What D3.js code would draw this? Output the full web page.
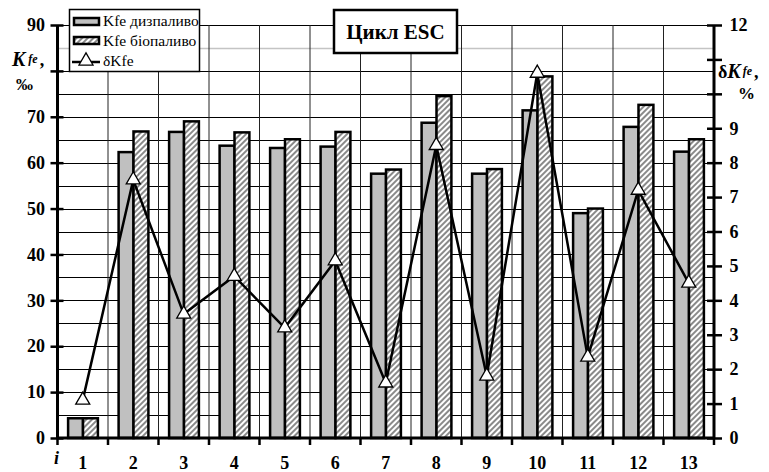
<!DOCTYPE html>
<html>
<head>
<meta charset="utf-8">
<script src="https://cdn.jsdelivr.net/npm/d3@7"></script>
<style>
  body { margin: 0; background: #fff; }
  text { font-family: "Liberation Serif", "Times New Roman", serif; }
</style>
</head>
<body>
<svg id="chart" width="769" height="472"></svg>
<script>
var categories = [1, 2, 3, 4, 5, 6, 7, 8, 9, 10, 11, 12, 13]
var dieselKfe = [4.3, 62.3, 66.7, 63.7, 63.2, 63.5, 57.6, 68.7, 57.6, 71.4, 49.0, 67.8, 62.4]
var bioKfe = [4.3, 66.8, 69.0, 66.6, 65.1, 66.7, 58.5, 74.5, 58.6, 78.8, 50.0, 72.6, 65.1]
var deltaKfe = [1.1, 7.5, 3.6, 4.7, 3.2, 5.15, 1.6, 8.5, 1.8, 10.6, 2.35, 7.2, 4.5]
var leftTicks = [0, 10, 20, 30, 40, 50, 60, 70, 80, 90]
var rightTicks = [0, 1, 2, 3, 4, 5, 6, 7, 8, 9, 10, 11, 12]
var seriesNames = ["Kfe дизпаливо", "Kfe біопаливо", "δKfe"]

var plotL = 57.5, plotR = 714, plotT = 25, plotB = 438

var svg = d3.select("#chart")

var defs = svg.append("defs")
var pat = defs.append("pattern")
  .attr("id", "hatch")
  .attr("patternUnits", "userSpaceOnUse")
  .attr("width", 4)
  .attr("height", 4)
  .attr("patternTransform", "rotate(45)")
pat.append("rect").attr("width", 4).attr("height", 4).attr("fill", "#fff")
pat.append("rect").attr("x", 0).attr("width", 2).attr("height", 4).attr("fill", "#8a8a8a")

var x = d3.scaleBand()
  .domain(categories)
  .range([plotL, plotR])

var bw = x.bandwidth()
var xSub = d3.scaleBand()
  .domain(["d", "b"])
  .range([bw * 0.21, bw * 0.8])

var yL = d3.scaleLinear().domain([0, 90]).range([plotB, plotT])
var yR = d3.scaleLinear().domain([0, 12]).range([plotB, plotT])

// horizontal grid every 5
var grid = svg.append("g")
grid.selectAll("line.h")
  .data(d3.range(5, 91, 5))
  .enter()
  .append("line")
  .attr("class", "h")
  .attr("x1", plotL).attr("x2", plotR)
  .attr("y1", function(d) { return Math.round(yL(d)) + 0.5 })
  .attr("y2", function(d) { return Math.round(yL(d)) + 0.5 })
  .attr("stroke", function(d) { return d == 85 ? "#c4c4c4" : "#000" })
  .attr("stroke-width", function(d) { return d == 85 ? 1.5 : 1.2 })

grid.selectAll("line.v")
  .data(categories.slice(1))
  .enter()
  .append("line")
  .attr("class", "v")
  .attr("x1", function(d) { return x(d) })
  .attr("x2", function(d) { return x(d) })
  .attr("y1", plotT).attr("y2", plotB)
  .attr("stroke", "#222")
  .attr("stroke-width", 1)

// bars
var groups = svg.selectAll("g.cat")
  .data(categories)
  .enter()
  .append("g")
  .attr("class", "cat")
  .attr("transform", function(d) { return "translate(" + x(d) + ",0)" })

groups.append("rect")
  .attr("x", xSub("d"))
  .attr("width", xSub.bandwidth())
  .attr("y", function(d, i) { return yL(dieselKfe[i]) })
  .attr("height", function(d, i) { return plotB - yL(dieselKfe[i]) })
  .attr("fill", "#c0c0c0")
  .attr("stroke", "#000")
  .attr("stroke-width", 2.5)

groups.append("rect")
  .attr("x", xSub("b"))
  .attr("width", xSub.bandwidth())
  .attr("y", function(d, i) { return yL(bioKfe[i]) })
  .attr("height", function(d, i) { return plotB - yL(bioKfe[i]) })
  .attr("fill", "url(#hatch)")
  .attr("stroke", "#000")
  .attr("stroke-width", 2.5)

// line
var line = d3.line()
  .x(function(d, i) { return x(categories[i]) + bw / 2 })
  .y(function(d) { return yR(d) })

svg.append("path")
  .datum(deltaKfe)
  .attr("d", line)
  .attr("fill", "none")
  .attr("stroke", "#000")
  .attr("stroke-width", 2.5)

var tri = d3.symbol().type(d3.symbolTriangle).size(85)
svg.selectAll("path.pt")
  .data(deltaKfe)
  .enter()
  .append("path")
  .attr("class", "pt")
  .attr("d", tri)
  .attr("transform", function(d, i) {
    return "translate(" + (x(categories[i]) + bw / 2) + "," + yR(d) + ")"
  })
  .attr("fill", "#fff")
  .attr("stroke", "#000")
  .attr("stroke-width", 1.3)

// axes (labels hidden where the axis titles sit, as in the original)
var axisL = d3.axisLeft(yL).tickValues(leftTicks).tickSize(7).tickPadding(5)
  .tickFormat(function(d) { return d == 80 ? "" : d })
var gL = svg.append("g")
  .attr("transform", "translate(" + plotL + ",0)")
  .call(axisL)
gL.select(".domain").remove()
gL.selectAll(".tick line").attr("x2", 6).attr("x1", -7).attr("stroke-width", 2.5)
gL.selectAll(".tick text")
  .attr("x", -12.5)
  .attr("font-size", 18)
  .attr("font-weight", "bold")
  .attr("font-family", "Liberation Serif")
  .attr("fill", "#000")

var axisR = d3.axisRight(yR).tickValues(rightTicks).tickSize(7).tickPadding(5)
  .tickFormat(function(d) { return (d == 10 || d == 11) ? "" : d })
var gR = svg.append("g")
  .attr("transform", "translate(" + plotR + ",0)")
  .call(axisR)
gR.select(".domain").remove()
gR.selectAll(".tick line").attr("x1", -7).attr("x2", 8).attr("stroke-width", 2.5)
gR.selectAll(".tick text")
  .attr("x", 15.5)
  .attr("font-size", 18)
  .attr("font-weight", "bold")
  .attr("font-family", "Liberation Serif")
  .attr("fill", "#000")

var axisB = d3.axisBottom(x).tickSize(0).tickPadding(18)
var gB = svg.append("g")
  .attr("transform", "translate(0," + plotB + ")")
  .call(axisB)
gB.select(".domain").remove()
gB.selectAll(".tick text")
  .attr("font-size", 18)
  .attr("font-weight", "bold")
  .attr("font-family", "Liberation Serif")
  .attr("fill", "#000")

svg.selectAll("line.bt")
  .data(categories.concat([14]))
  .enter()
  .append("line")
  .attr("class", "bt")
  .attr("x1", function(d) { return d == 14 ? plotR : x(d) })
  .attr("x2", function(d) { return d == 14 ? plotR : x(d) })
  .attr("y1", plotB).attr("y2", plotB + 7)
  .attr("stroke", "#000")
  .attr("stroke-width", 2.5)

// axis lines
svg.append("line").attr("x1", plotL).attr("x2", plotL).attr("y1", plotT).attr("y2", plotB + 1)
  .attr("stroke", "#000").attr("stroke-width", 3)
svg.append("line").attr("x1", plotR).attr("x2", plotR).attr("y1", plotT).attr("y2", plotB + 1)
  .attr("stroke", "#000").attr("stroke-width", 3)
svg.append("line").attr("x1", plotL).attr("x2", plotR).attr("y1", plotB).attr("y2", plotB)
  .attr("stroke", "#000").attr("stroke-width", 3)

// axis titles
var tl = svg.append("text").attr("x", 12).attr("y", 66).attr("font-weight", "bold")
tl.append("tspan").text("K").attr("font-size", 20).attr("font-style", "italic")
tl.append("tspan").text("fe").attr("font-size", 12).attr("font-style", "italic").attr("dx", 3).attr("dy", -3)
tl.append("tspan").text(",").attr("font-size", 18).attr("dx", 2).attr("dy", 3)
svg.append("text").attr("x", 16).attr("y", 90).attr("font-size", 17).attr("font-weight", "bold").text("‰")

var tr = svg.append("text").attr("x", 718).attr("y", 78).attr("font-weight", "bold")
tr.append("tspan").text("δ").attr("font-size", 18)
tr.append("tspan").text("K").attr("font-size", 20).attr("font-style", "italic")
tr.append("tspan").text("fe").attr("font-size", 12).attr("font-style", "italic").attr("dx", 2).attr("dy", -3)
tr.append("tspan").text(",").attr("font-size", 18).attr("dx", 2).attr("dy", 3)
svg.append("text").attr("x", 738).attr("y", 99).attr("font-size", 17).attr("font-weight", "bold").text("%")

svg.append("text").attr("x", 54).attr("y", 464).attr("font-size", 18)
  .attr("font-weight", "bold").attr("font-style", "italic").text("i")

// title box
svg.append("rect").attr("x", 334).attr("y", 10).attr("width", 123).attr("height", 43)
  .attr("fill", "#fff").attr("stroke", "#000").attr("stroke-width", 2.5)
svg.append("text").attr("x", 395.5).attr("y", 39).attr("text-anchor", "middle")
  .attr("font-size", 21).attr("font-weight", "bold").text("Цикл ESC")

// legend
var lg = svg.append("g")
lg.append("rect").attr("x", 69.5).attr("y", 9.5).attr("width", 130).attr("height", 62)
  .attr("fill", "#fff").attr("stroke", "#000").attr("stroke-width", 1.5)
lg.append("rect").attr("x", 74).attr("y", 18).attr("width", 25).attr("height", 7)
  .attr("fill", "#c0c0c0").attr("stroke", "#000").attr("stroke-width", 2.5)
lg.append("rect").attr("x", 74).attr("y", 37).attr("width", 25).attr("height", 7)
  .attr("fill", "url(#hatch)").attr("stroke", "#000").attr("stroke-width", 2.5)
lg.append("line").attr("x1", 72).attr("x2", 100).attr("y1", 62).attr("y2", 62)
  .attr("stroke", "#000").attr("stroke-width", 2.5)
lg.append("path").attr("d", tri).attr("transform", "translate(86,61)")
  .attr("fill", "#fff").attr("stroke", "#000").attr("stroke-width", 1.3)
lg.selectAll("text.lt")
  .data(seriesNames)
  .enter()
  .append("text")
  .attr("class", "lt")
  .attr("x", 103)
  .attr("y", function(d, i) { return 26 + i * 20 })
  .attr("font-size", 15.5)
  .text(function(d) { return d })
</script>
</body>
</html>
